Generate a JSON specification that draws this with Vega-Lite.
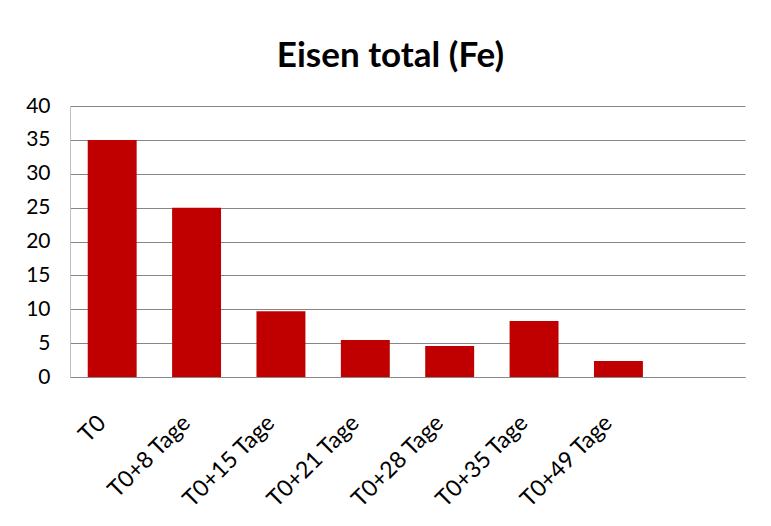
{
  "$schema": "https://vega.github.io/schema/vega-lite/v6.json",
  "width": 675,
  "height": 271,
  "autosize": {"type": "none"},
  "padding": {"left": 70, "top": 106, "right": 26, "bottom": 149},
  "background": "white",
  "title": {
    "text": "Eisen total (Fe)",
    "font": "Lato",
    "fontSize": 35,
    "fontWeight": "bold",
    "color": "#000000",
    "anchor": "middle",
    "dx": -17,
    "offset": 21
  },
  "data": {
    "values": [
      {"Zeitpunkt": "T0", "Fe": 35},
      {"Zeitpunkt": "T0+8 Tage", "Fe": 25},
      {"Zeitpunkt": "T0+15 Tage", "Fe": 9.7},
      {"Zeitpunkt": "T0+21 Tage", "Fe": 5.45},
      {"Zeitpunkt": "T0+28 Tage", "Fe": 4.56},
      {"Zeitpunkt": "T0+35 Tage", "Fe": 8.25},
      {"Zeitpunkt": "T0+49 Tage", "Fe": 2.35}
    ]
  },
  "mark": {"type": "bar", "color": "#C00000"},
  "encoding": {
    "x": {
      "field": "Zeitpunkt",
      "type": "nominal",
      "sort": null,
      "scale": {
        "domain": ["T0", "T0+8 Tage", "T0+15 Tage", "T0+21 Tage", "T0+28 Tage", "T0+35 Tage", "T0+49 Tage", " "],
        "paddingInner": 0.42,
        "paddingOuter": 0.21
      },
      "axis": {
        "title": null,
        "labelAngle": -45,
        "labelAlign": "right",
        "labelBaseline": "middle",
        "labelFont": "Lato",
        "labelFontSize": 23,
        "labelColor": "#000000",
        "labelPadding": 42,
        "labelOverlap": false,
        "labelOffset": -10,
        "ticks": false,
        "domainColor": "#898989",
        "domainWidth": 1
      }
    },
    "y": {
      "field": "Fe",
      "type": "quantitative",
      "scale": {"domain": [0, 40]},
      "axis": {
        "title": null,
        "values": [0, 5, 10, 15, 20, 25, 30, 35, 40],
        "labelFont": "Lato",
        "labelFontSize": 21,
        "labelColor": "#000000",
        "labelPadding": 20,
        "ticks": false,
        "domainColor": "#BFBFBF",
        "gridColor": "#868686",
        "gridWidth": 1
      }
    }
  },
  "config": {"view": {"stroke": null}}
}
